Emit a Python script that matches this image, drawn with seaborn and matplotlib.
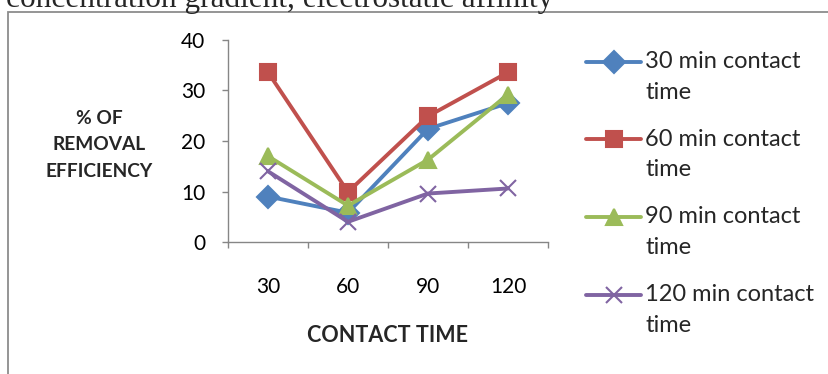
import numpy as np
import pandas as pd
import seaborn as sns
import matplotlib
matplotlib.use("Agg")
import matplotlib.pyplot as plt
from matplotlib.patches import Rectangle
from matplotlib.legend_handler import HandlerLine2D

# ---- data ----
categories = ["30", "60", "90", "120"]
series_names = ["30 min contact time", "60 min contact time",
                "90 min contact time", "120 min contact time"]
legend_labels = ["30 min contact\ntime", "60 min contact\ntime",
                 "90 min contact\ntime", "120 min contact\ntime"]
vals_30 = [9.0, 5.8, 22.4, 27.5]
vals_60 = [33.6, 9.9, 24.9, 33.6]
vals_90 = [17.0, 7.2, 16.3, 29.2]
vals_120 = [14.0, 4.0, 9.6, 10.6]
y_ticks = [0, 10, 20, 30, 40]
title_text = "concentration gradient, electrostatic affinity"
y_label = "% OF\nREMOVAL\nEFFICIENCY"
x_label = "CONTACT TIME"

colors = ["#4F81BD", "#C0504D", "#9BBB59", "#8064A2"]
markers = ["D", "s", "^", "x"]

rows = []
for name, vals in zip(series_names, [vals_30, vals_60, vals_90, vals_120]):
    for c, v in zip(categories, vals):
        rows.append({"time": c, "value": v, "series": name})
df = pd.DataFrame(rows)

sns.set_theme(style="white")
plt.rcParams["font.family"] = ["Lato", "DejaVu Sans"]

W, H = 829, 374
fig = plt.figure(figsize=(W / 100, H / 100), dpi=100)
ax = fig.add_axes([228 / W, (H - 242) / H, (548 - 228) / W, (242 - 40) / H])

sns.pointplot(data=df, x="time", y="value", hue="series", order=categories,
              hue_order=series_names, palette=colors, markers=markers,
              linestyles="-", errorbar=None, dodge=False, ax=ax,
              linewidth=2.8, markersize=11.5, markeredgewidth=1.5)

ax.set_xlim(-0.5, len(categories) - 0.5)
ax.set_ylim(0, 40)
ax.set_yticks(y_ticks)
ax.set_xticks(np.arange(len(categories) + 1) - 0.5)
ax.set_xticklabels([])
ax.set_xticks(np.arange(len(categories)), minor=True)
ax.set_xticklabels(categories, minor=True)

spine_c = "#868686"
for s in ["top", "right"]:
    ax.spines[s].set_visible(False)
for s in ["left", "bottom"]:
    ax.spines[s].set_color(spine_c)
    ax.spines[s].set_linewidth(1.0)
ax.tick_params(axis="both", which="major", direction="out", length=4.5,
               width=1.0, color=spine_c, labelsize=15, labelcolor="black")
ax.tick_params(axis="x", which="major", bottom=True)
ax.tick_params(axis="y", which="major", left=True, pad=12)
ax.tick_params(axis="x", which="minor", length=0, labelsize=15, pad=25,
               labelcolor="black")

ax.set_xlabel(x_label, fontsize=15.5, fontweight="bold", labelpad=20)
ax.set_ylabel("")
fig.text(99 / W, 1 - 145 / H, y_label, fontsize=13.8, fontweight="bold",
         ha="center", va="center", linespacing=1.65)

# legend
handles, _ = ax.get_legend_handles_labels()
if ax.get_legend() is not None:
    ax.get_legend().remove()


class UpHandler(HandlerLine2D):
    def __init__(self, shift, **kw):
        super().__init__(**kw)
        self.shift = shift

    def create_artists(self, legend, orig_handle, xdescent, ydescent,
                       width, height, fontsize, trans):
        arts = super().create_artists(legend, orig_handle, xdescent,
                                      ydescent, width, height, fontsize, trans)
        for a in arts:
            a.set_ydata(np.asarray(a.get_ydata(), dtype=float) + self.shift)
        return arts


hm = {h: UpHandler(11.2) for h in handles}
leg = fig.legend(handles, legend_labels, loc="upper left",
                 bbox_to_anchor=(586 / W, 1 - 51 / H), frameon=False,
                 fontsize=17, handlelength=2.35, handletextpad=0.15,
                 labelspacing=1.1, borderpad=0, borderaxespad=0,
                 handler_map=hm)
for t in leg.get_texts():
    t.set_linespacing(1.57)

# title fragment and frame
fig.text(6 / W, 1 - 7 / H, title_text, fontsize=22.5,
         family=["Liberation Serif", "DejaVu Serif"], ha="left",
         va="baseline")
fig.add_artist(Rectangle((8 / W, -0.2), 1.2, 1 - 12 / H + 0.2,
                         transform=fig.transFigure, fill=False,
                         edgecolor="#8c8c8c", linewidth=1.3))

fig.savefig("out.png", dpi=100)
